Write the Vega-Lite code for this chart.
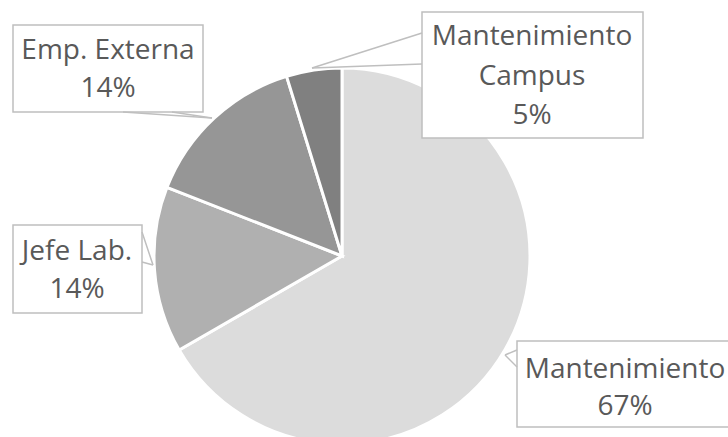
{
  "$schema": "https://vega.github.io/schema/vega-lite/v6.json",
  "width": 728,
  "height": 437,
  "autosize": {"type": "none"},
  "padding": 0,
  "background": "white",
  "config": {"view": {"stroke": null}},
  "datasets": {
    "slices": [
      {"category": "Mantenimiento", "value": 14, "ord": 1},
      {"category": "Jefe Lab.", "value": 3, "ord": 2},
      {"category": "Emp. Externa", "value": 3, "ord": 3},
      {"category": "Mantenimiento Campus", "value": 1, "ord": 4}
    ],
    "boxes": [
      {"label": "Emp. Externa", "x": 13, "x2": 203, "y": 25, "y2": 112},
      {"label": "Mantenimiento Campus", "x": 422, "x2": 643, "y": 12, "y2": 138},
      {"label": "Jefe Lab.", "x": 13, "x2": 142, "y": 225, "y2": 313},
      {"label": "Mantenimiento", "x": 517, "x2": 734, "y": 341, "y2": 427}
    ],
    "pointers": [
      {"label": "Emp. Externa", "x": 123, "y": 112, "x2": 212, "y2": 118},
      {"label": "Emp. Externa", "x": 172, "y": 112, "x2": 212, "y2": 118},
      {"label": "Mantenimiento Campus", "x": 422, "y": 33, "x2": 312, "y2": 68},
      {"label": "Mantenimiento Campus", "x": 422, "y": 64, "x2": 312, "y2": 68},
      {"label": "Jefe Lab.", "x": 142, "y": 232, "x2": 153, "y2": 265},
      {"label": "Jefe Lab.", "x": 142, "y": 262, "x2": 153, "y2": 265},
      {"label": "Mantenimiento", "x": 517, "y": 350, "x2": 505, "y2": 355},
      {"label": "Mantenimiento", "x": 517, "y": 367, "x2": 505, "y2": 355}
    ],
    "texts": [
      {"text": "Emp. Externa", "x": 108, "y": 51},
      {"text": "14%", "x": 108, "y": 89},
      {"text": "Mantenimiento", "x": 532, "y": 37},
      {"text": "Campus", "x": 532, "y": 77},
      {"text": "5%", "x": 532, "y": 116},
      {"text": "Jefe Lab.", "x": 77, "y": 252},
      {"text": "14%", "x": 77, "y": 290},
      {"text": "Mantenimiento", "x": 625, "y": 370},
      {"text": "67%", "x": 625, "y": 407}
    ]
  },
  "layer": [
    {
      "data": {"name": "slices"},
      "mark": {"type": "arc", "radius": 188, "stroke": "white", "strokeWidth": 3},
      "encoding": {
        "theta": {"field": "value", "type": "quantitative", "stack": true},
        "order": {"field": "ord", "type": "quantitative"},
        "color": {
          "field": "category",
          "type": "nominal",
          "scale": {
            "domain": ["Mantenimiento", "Jefe Lab.", "Emp. Externa", "Mantenimiento Campus"],
            "range": ["#dcdcdc", "#b0b0b0", "#969696", "#808080"]
          },
          "legend": null
        },
        "x": {"datum": 342, "type": "quantitative", "scale": {"domain": [0, 728], "nice": false, "zero": false}, "axis": null},
        "y": {"datum": 256, "type": "quantitative", "scale": {"domain": [0, 437], "nice": false, "zero": false, "reverse": true}, "axis": null}
      }
    },
    {
      "data": {"name": "boxes"},
      "mark": {"type": "rect", "fill": "white", "stroke": "#bfbfbf", "strokeWidth": 1.5},
      "encoding": {
        "x": {"field": "x", "type": "quantitative", "axis": null},
        "x2": {"field": "x2"},
        "y": {"field": "y", "type": "quantitative", "axis": null},
        "y2": {"field": "y2"}
      }
    },
    {
      "data": {"name": "pointers"},
      "mark": {"type": "rule", "stroke": "#bfbfbf", "strokeWidth": 1.5},
      "encoding": {
        "x": {"field": "x", "type": "quantitative", "axis": null},
        "x2": {"field": "x2"},
        "y": {"field": "y", "type": "quantitative", "axis": null},
        "y2": {"field": "y2"}
      }
    },
    {
      "data": {"name": "texts"},
      "mark": {"type": "text", "font": "Open Sans", "fontSize": 28, "color": "#595959", "align": "center", "baseline": "middle"},
      "encoding": {
        "x": {"field": "x", "type": "quantitative", "axis": null},
        "y": {"field": "y", "type": "quantitative", "axis": null},
        "text": {"field": "text"}
      }
    }
  ]
}
